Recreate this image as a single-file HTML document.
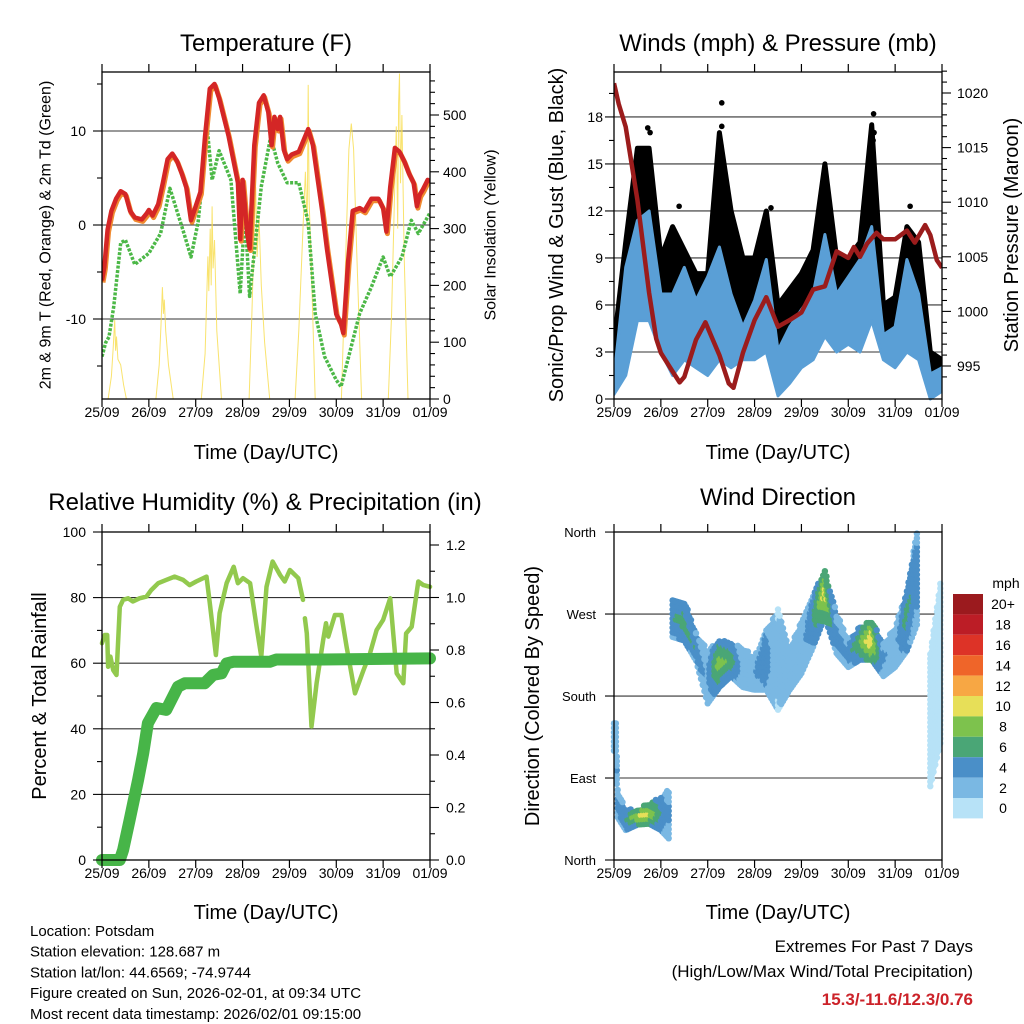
<!DOCTYPE html>
<html><head><meta charset="utf-8"><style>
body{margin:0;background:#fff;}
svg{display:block;font-family:"Liberation Sans",Arial,sans-serif;}
</style></head><body>
<svg id="s" width="1024" height="1024" viewBox="0 0 1024 1024" xmlns="http://www.w3.org/2000/svg"></svg>
<script>
// ---------- DATA ----------
const dayLabels=["25/09","26/09","27/09","28/09","29/09","30/09","31/09","01/09"];
const tempT=[0,0.05,0.12,0.2,0.3,0.4,0.5,0.6,0.7,0.85,0.95,1.0,1.08,1.2,1.3,1.4,1.5,1.6,1.7,1.8,1.9,2.0,2.1,2.2,2.3,2.4,2.5,2.6,2.7,2.8,2.9,2.95,3.0,3.05,3.1,3.15,3.25,3.35,3.45,3.55,3.62,3.68,3.75,3.8,3.88,3.95,4.05,4.2,4.3,4.4,4.5,4.6,4.7,4.8,4.9,5.0,5.1,5.15,5.25,5.35,5.5,5.6,5.75,5.9,6.0,6.07,6.15,6.25,6.35,6.45,6.55,6.65,6.72,6.78,6.85,6.95,7.0];
const tempRed=[-5.9,-4.5,-0.5,1.5,2.8,3.6,3.3,1.5,0.8,0.6,1.2,1.6,1.0,2.2,4.5,7.0,7.6,6.8,5.5,4.0,0.5,2.0,3.5,9.5,14.5,15.0,13.5,11.5,9.5,7.0,4.5,-1.5,4.8,2.0,-1,-2.5,8.5,13,13.8,12,8.5,11.5,10.2,11.5,8,7,7.5,7.8,9,10.2,8.5,5,1.5,-2.5,-6,-9.5,-10.5,-11.5,-4,1.5,1.8,1.5,2.8,2.8,1.8,-0.7,4,8.2,7.8,6.8,5.5,4.5,2,3.2,3.8,4.8,4.6];
const tdT=[0,0.08,0.15,0.25,0.4,0.5,0.7,1.0,1.25,1.45,1.75,1.9,2.05,2.25,2.35,2.5,2.75,2.95,3.05,3.15,3.4,3.6,3.75,3.95,4.2,4.4,4.55,4.75,5.0,5.1,5.5,5.75,6.0,6.15,6.4,6.6,6.75,7.0];
const tdV=[-14,-12.5,-11.9,-8.7,-1.9,-1.6,-4.2,-3,-0.9,3.9,-0.9,-3.4,0.3,10.1,4.8,7.9,4.8,-7.3,1.6,-7.6,4.1,9.4,6.6,4.5,4.5,0.3,-9.4,-14,-16.5,-17.2,-9.4,-6.6,-3.4,-5.5,-3.4,0.5,-0.9,1.3];
const solarT=[0.13,0.2,0.24,0.27,0.29,0.31,0.34,0.4,0.46,0.52,1.15,1.22,1.26,1.29,1.31,1.33,1.36,1.42,1.52,2.12,2.2,2.26,2.28,2.31,2.33,2.35,2.37,2.4,2.45,2.55,3.14,3.2,3.25,3.28,3.31,3.35,3.4,3.47,3.58,4.12,4.2,4.28,4.34,4.38,4.4,4.42,4.46,4.55,5.11,5.2,5.27,5.32,5.37,5.44,5.54,6.11,6.18,6.24,6.28,6.31,6.33,6.35,6.37,6.4,6.45,6.53];
const solarV=[0,40,90,139,85,110,70,60,25,0,0,60,130,197,150,175,120,60,0,0,80,251,190,300,200,339,230,280,120,0,0,150,300,373,250,320,200,100,0,0,120,280,400,300,553,350,250,0,0,250,440,485,440,250,0,0,150,350,480,300,520,573,380,500,250,0];
const windT=[0,0.25,0.5,0.75,1,1.25,1.5,1.75,2,2.25,2.5,2.75,3,3.25,3.5,3.75,4,4.25,4.5,4.75,5,5.25,5.5,5.75,6,6.25,6.5,6.75,7];
const blueMax=[1.4,8.4,11.4,12,6.7,6.7,8.4,6.3,7.8,9.7,6.7,4.6,6.3,8.9,3.1,4.6,5.7,6.7,10.5,6.7,7.8,8.9,11,4.1,4.6,8.9,6.7,1.6,2.0];
const blueMin=[0.3,1.5,5,5,3,1.5,2.5,2,1.5,2.5,2,2.5,2.5,3,0.2,1,2,2.5,4,3,3.5,3,5,2.5,2,3,2.5,0,0.5];
const gustMax=[3.5,10,16,16,9,11,9.5,8,8,17,12,9,9,12,6,7,8,9.5,15,9,9,10,17.5,6,6.5,11,10,3,2.5];
const gustOutT=[2.3,2.3,2.28,5.54,5.55,5.53,0.72,0.77,1.39,3.35,6.32,0.1,4.4];
const gustOutV=[18.9,17.4,16.2,18.2,17,16.5,17.3,17,12.3,12.2,12.3,5.5,10.5];
const presT=[0,0.1,0.25,0.5,0.75,0.9,1.0,1.25,1.4,1.5,1.75,1.95,2.1,2.25,2.45,2.55,2.75,3.0,3.25,3.5,3.75,4.0,4.25,4.5,4.75,5.0,5.12,5.25,5.4,5.6,5.75,6.0,6.25,6.42,6.64,6.75,6.89,7.0];
const presV=[1020.9,1019,1016.9,1010.2,1001.7,997.5,996.2,994.5,993.5,994,997.4,999.0,997.5,996,993.4,993,996.2,999.2,1001.3,998.6,999.2,999.9,1002,1002.3,1005.5,1004.9,1005.9,1005,1006.2,1007.2,1006.6,1006.6,1007.4,1006.3,1007.9,1007,1004.7,1004.0];
const rhT=[0,0.06,0.11,0.13,0.18,0.24,0.31,0.38,0.45,0.56,0.66,0.8,0.95,1.05,1.2,1.37,1.55,1.73,1.87,2.01,2.23,2.3,2.43,2.51,2.66,2.81,2.9,3.01,3.16,3.3,3.4,3.51,3.64,3.8,3.9,4.01,4.19,4.29,null,4.33,4.37,4.47,4.58,4.72,4.78,4.83,4.97,5.11,5.22,5.4,5.58,5.72,5.86,6.0,6.15,6.29,6.43,6.49,6.61,6.75,6.86,7.0];
const rhV=[66.1,68.6,68.6,58.9,62,57.9,56.4,77.2,79.3,79.8,78.8,79.8,80.3,82.3,84.4,85.4,86.4,85.4,83.8,84.9,86.4,78.3,62.5,75.2,84.4,89.4,84.4,85.9,84.4,71.1,62,83.3,91,86.9,84.9,88.4,85.9,79.3,null,73.7,69.1,40.7,53.9,67.1,72.2,68.1,74.7,74.7,65,50.8,57.9,63,70.1,73.2,79.8,56.9,53.9,69.1,71.1,84.9,83.8,83.3];
const prT=[0,0.38,0.45,0.59,0.77,0.88,0.98,1.16,1.37,1.62,1.77,2.19,2.37,2.55,2.66,2.8,3.58,3.72,4.72,7.0];
const prV=[0,0,0.038,0.152,0.305,0.406,0.521,0.579,0.572,0.66,0.673,0.673,0.705,0.711,0.749,0.755,0.755,0.764,0.764,0.768];
const dirT=[0,0.04,0.08,0.25,0.5,0.75,1.0,1.2,1.25,1.5,1.75,2.0,2.25,2.5,2.75,3.0,3.25,3.5,3.75,4.0,4.25,4.5,4.75,5.0,5.25,5.5,5.75,6.0,6.25,6.5,6.75,7.0];
const dirC=[135,135,62,44,48,51,51,51,267,263,234,201,216,220,212,205,220,220,209,234,263,293,249,227,238,242,220,234,263,318,154,227];
const dirS=[15,15,15,11,9,11,18,29,22,22,15,29,26,18,22,18,33,55,22,29,29,26,22,15,18,22,18,22,33,55,73,91];
const dirSpd=[2,2,4,5,9,10,6,3,5,6,5,3,8,7,3,3,5,1.5,3,2,5,10,4,4,7,11,4,2,6,4,1,0.5];
const cbLabels=["20+","18","16","14","12","10","8","6","4","2","0"];
const cbColors=["#9b1a1e","#bc1d26","#dd3327","#ef6529","#f7a744","#e7df58","#7dc24d","#4aa676","#4a8fc8","#7ab8e3","#b7e2f7"];

// ---------- HELPERS ----------
const S=document.getElementById('s');const NS="http://www.w3.org/2000/svg";
function el(tag,attrs,parent){const e=document.createElementNS(NS,tag);for(const k in attrs)e.setAttribute(k,attrs[k]);(parent||S).appendChild(e);return e;}
function txt(x,y,s,size,anchor,extra,name){const e=el('text',Object.assign({x:x,y:y,'font-size':size,'text-anchor':anchor||'middle',fill:'#000'},extra||{}));e.textContent=s;

return e;}
function pathD(ts,vs,fx,fy){let d='',pen=false;for(let i=0;i<ts.length;i++){if(ts[i]===null||vs[i]===null){pen=false;continue;}d+=(pen?'L':'M')+fx(ts[i]).toFixed(1)+','+fy(vs[i]).toFixed(1);pen=true;}return d;}
function mkX(x0,x1){return t=>x0+t*(x1-x0)/7;}

function frame(x0,x1,y0,y1,name,leftTicks,rightTicks,labY,titleY){
 const g=el('g',{});
 for(let d=0;d<=7;d++){const x=x0+d*(x1-x0)/7;
  el('line',{x1:x,y1:y0,x2:x,y2:y0-8,stroke:'#000','stroke-width':1.2},g);
  el('line',{x1:x,y1:y1,x2:x,y2:y1+8,stroke:'#000','stroke-width':1.2},g);
  txt(x,labY,dayLabels[d],14,'middle',{},'x-tick-label');}
 leftTicks.forEach(([y,major])=>el('line',{x1:x0,y1:y,x2:x0-(major?9:5),y2:y,stroke:'#000','stroke-width':1.1},g));
 rightTicks.forEach(([y,major])=>el('line',{x1:x1,y1:y,x2:x1+(major?9:5),y2:y,stroke:'#000','stroke-width':1.1},g));
 el('rect',{x:x0,y:y0,width:x1-x0,height:y1-y0,fill:'none',stroke:'#000','stroke-width':1.3},g);
 txt((x0+x1)/2,titleY,'Time (Day/UTC)',20,'middle',{},'x-axis-title');
}
function grid(x0,x1,ys){ys.forEach(y=>{const l=el('line',{x1:x0,y1:y,x2:x1,y2:y,stroke:'#333','stroke-width':1.1});

});}
function vtitle(x,y,s,size,name){const e=txt(x,y,s,size,'middle',{transform:`rotate(-90 ${x} ${y})`,'dominant-baseline':'central'},name);return e;}

// ---------- PANEL 1: Temperature ----------
(function(){
 const x0=102,x1=430,y0=72,y1=399,X=mkX(x0,x1);
 const Y=v=>225-9.4*v, YS=v=>399-0.568*v;
 const clip=el('clipPath',{id:'c1'});el('rect',{x:x0,y:y0,width:x1-x0,height:y1-y0},clip);
 grid(x0,x1,[Y(10),Y(0),Y(-10)]);
 const g=el('g',{'clip-path':'url(#c1)'});
 let p=el('path',{d:pathD(solarT,solarV,X,YS),fill:'none',stroke:'#f7dc4a','stroke-width':1,'stroke-opacity':0.8},g);
 
 p=el('path',{d:pathD(tdT,tdV,X,Y),fill:'none',stroke:'#4cb847','stroke-width':3.5,'stroke-dasharray':'3 1.5','stroke-linejoin':'round'},g);
 
 p=el('path',{d:pathD(tempT,tempRed,X,Y),fill:'none',stroke:'#f08a30','stroke-width':5,'stroke-linejoin':'round',transform:'translate(1,2)'},g);
 
 p=el('path',{d:pathD(tempT,tempRed,X,Y),fill:'none',stroke:'#d42626','stroke-width':4.5,'stroke-linejoin':'round'},g);
 
 const lt=[],rt=[];
 for(let v=-15;v<=15;v+=5)lt.push([Y(v),v%10===0]);
 for(let v=0;v<=560;v+=20)rt.push([YS(v),v%100===0]);
 frame(x0,x1,y0,y1,'temperature',lt,rt,417,459);
 [10,0,-10].forEach(v=>txt(86,Y(v)+5,String(v),14,'end',{},'y-tick-label'));
 [0,100,200,300,400,500].forEach(v=>txt(443,YS(v)+5,String(v),14,'start',{},'y2-tick-label'));
 txt(266,51,'Temperature (F)',24,'middle',{},'temperature-title');
 vtitle(46,235,'2m & 9m T (Red, Orange) & 2m Td (Green)',16,'temperature-y-axis-title');
 vtitle(491,235,'Solar Insolation (Yellow)',16,'solar-y-axis-title');
})();

// ---------- PANEL 2: Winds ----------
(function(){
 const x0=614,x1=942,y0=72,y1=399,X=mkX(x0,x1);
 const Y=v=>399-15.67*v, YP=v=>93+(1020-v)*10.92;
 const clip=el('clipPath',{id:'c2'});el('rect',{x:x0,y:y0-2,width:x1-x0,height:y1-y0+4},clip);
 grid(x0,x1,[3,6,9,12,15,18].map(Y));
 const g=el('g',{'clip-path':'url(#c2)'});
 let top=windT.map((t,i)=>X(t).toFixed(1)+','+Y(gustMax[i]).toFixed(1));
 let bot=windT.map((t,i)=>X(t).toFixed(1)+','+Y((blueMax[i]+blueMin[i])/2).toFixed(1)).reverse();
 let p=el('polygon',{points:top.concat(bot).join(' '),fill:'#000',stroke:'#000','stroke-width':5,'stroke-linejoin':'round'},g);
 
 gustOutT.forEach((t,i)=>{const c=el('circle',{cx:X(t),cy:Y(gustOutV[i]),r:2.8,fill:'#000'},g);
  });
 top=windT.map((t,i)=>X(t).toFixed(1)+','+Y(blueMax[i]).toFixed(1));
 bot=windT.map((t,i)=>X(t).toFixed(1)+','+Y(blueMin[i]).toFixed(1)).reverse();
 p=el('polygon',{points:top.concat(bot).join(' '),fill:'#5a9fd6',stroke:'#5a9fd6','stroke-width':3,'stroke-linejoin':'round'},g);
 
 p=el('path',{d:pathD(presT,presV,X,YP),fill:'none',stroke:'#9b1c1c','stroke-width':4.5,'stroke-linejoin':'round'},g);
 
 const lt=[],rt=[];
 for(let v=0;v<=19.5;v+=1.5)lt.push([Y(v),v%3===0]);
 for(let v=994;v<=1022;v+=1)rt.push([YP(v),v%5===0]);
 frame(x0,x1,y0,y1,'winds',lt,rt,417,459);
 [0,3,6,9,12,15,18].forEach(v=>txt(603,Y(v)+5,String(v),14,'end',{},'y-tick-label'));
 [995,1000,1005,1010,1015,1020].forEach(v=>txt(957,YP(v)+5,String(v),14,'start',{},'y2-tick-label'));
 txt(778,51,'Winds (mph) & Pressure (mb)',24,'middle',{},'winds-title');
 vtitle(557,235,'Sonic/Prop Wind & Gust (Blue, Black)',20,'wind-y-axis-title');
 vtitle(1012,235,'Station Pressure (Maroon)',20,'pressure-y-axis-title');
})();

// ---------- PANEL 3: RH & Precip ----------
(function(){
 const x0=102,x1=430,y0=532,y1=860,X=mkX(x0,x1);
 const Y=v=>860-3.28*v, YR=v=>860-262.5*v;
 grid(x0,x1,[20,40,60,80].map(Y));
 let p=el('path',{d:pathD(rhT,rhV,X,Y),fill:'none',stroke:'#92c94e','stroke-width':4.5,'stroke-linejoin':'round','stroke-linecap':'round'});
 
 p=el('path',{d:pathD(prT,prV,X,YR),fill:'none',stroke:'#47b548','stroke-width':12,'stroke-linejoin':'round','stroke-linecap':'round'});
 
 const lt=[],rt=[];
 for(let v=0;v<=100;v+=10)lt.push([Y(v),v%20===0]);
 for(let v=0;v<=12;v+=1)rt.push([YR(v/10),v%2===0]);
 frame(x0,x1,y0,y1,'humidity',lt,rt,878,919);
 [0,20,40,60,80,100].forEach(v=>txt(86,Y(v)+5,String(v),14,'end',{},'y-tick-label'));
 ['0.0','0.2','0.4','0.6','0.8','1.0','1.2'].forEach(s=>txt(446,YR(parseFloat(s))+5,s,14,'start',{},'y2-tick-label'));
 txt(265,510,'Relative Humidity (%) & Precipitation (in)',24,'middle',{},'humidity-title');
 vtitle(40,696,'Percent & Total Rainfall',20,'humidity-y-axis-title');
})();

// ---------- PANEL 4: Wind direction ----------
(function(){
 const x0=614,x1=942,y0=532,y1=860,X=mkX(x0,x1);
 const Y=v=>860-0.911*v;
 grid(x0,x1,[90,180,270].map(Y));
 const g=el('g',{});
 for(let i=0;i<dirT.length-1;i++){
  if(Math.abs(dirC[i+1]-dirC[i])>100)continue;
  const n=Math.max(2,Math.round((dirT[i+1]-dirT[i])/0.035));
  for(let k=0;k<n;k++){const f=k/n,t=dirT[i]+f*(dirT[i+1]-dirT[i]);
   const c=dirC[i]+f*(dirC[i+1]-dirC[i]),s=dirS[i]+f*(dirS[i+1]-dirS[i]),sp=dirSpd[i]+f*(dirSpd[i+1]-dirSpd[i]);
   for(let o=-s;o<=s;o+=5){const w=1-0.45*Math.abs(o)/Math.max(s,1);
    const idx=Math.min(10,Math.max(0,Math.round(sp*w/2)));
    const cy=Math.max(y0,Math.min(y1,Y(c+o)));
    const dot=el('circle',{cx:X(t).toFixed(1),cy:cy.toFixed(1),r:3.2,fill:cbColors[10-idx]},g);}}}
 const lt=[],rt=[];
 for(let v=0;v<=360;v+=90)lt.push([Y(v),true]);
 for(let v=0;v<=360;v+=90)rt.push([Y(v),true]);
 frame(x0,x1,y0,y1,'direction',lt,[],878,919);
 ['North','East','South','West','North'].forEach((s,i)=>txt(596,Y(i*90)+5,s,13,'end',{},'direction-tick-label'));
 txt(778,505,'Wind Direction',24,'middle',{},'direction-title');
 vtitle(533,696,'Direction (Colored By Speed)',20,'direction-y-axis-title');
 // colorbar
 const cb=el('g',{});
 const by0=594,bh=20.4;
 cbColors.forEach((c,i)=>{const r=el('rect',{x:953,y:by0+i*bh,width:30,height:bh,fill:c},cb);
  
  txt(1003,by0+i*bh+bh/2+5,cbLabels[i],14,'middle',{},'colorbar-label');});
 txt(1006,588,'mph',14,'middle',{},'colorbar-unit');
})();

// ---------- FOOTER ----------
['Location: Potsdam','Station elevation: 128.687 m','Station lat/lon: 44.6569; -74.9744','Figure created on Sun, 2026-02-01, at 09:34 UTC','Most recent data timestamp: 2026/02/01 09:15:00']
 .forEach((s,i)=>txt(30,936+i*20.7,s,15,'start',{},'station-info-line'));
txt(973,952,'Extremes For Past 7 Days',17,'end',{},'extremes-heading');
txt(973,977,'(High/Low/Max Wind/Total Precipitation)',17,'end',{},'extremes-subheading');
txt(973,1005,'15.3/-11.6/12.3/0.76',17,'end',{fill:'#cc2229','font-weight':'bold'},'extremes-values');
</script>
</body></html>
